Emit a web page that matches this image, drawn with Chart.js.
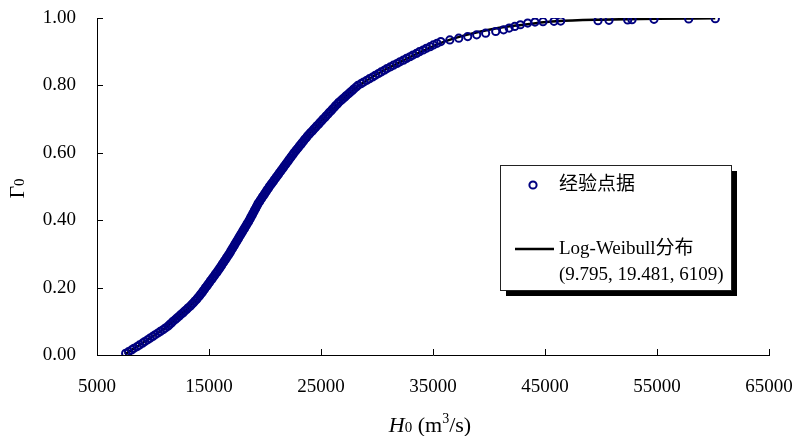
<!DOCTYPE html>
<html>
<head>
<meta charset="utf-8">
<script src="https://cdn.jsdelivr.net/npm/chart.js@4.4.1/dist/chart.umd.min.js"></script>
<style>
  html, body { margin: 0; padding: 0; background: #fff; }
  #wrap { width: 792px; height: 436px; }
</style>
</head>
<body>
<div id="wrap"><canvas id="chart" width="792" height="436"></canvas></div>
<script>
(function () {
  'use strict';

  var SERIF = "'Liberation Serif', 'Times New Roman', 'Noto Sans CJK SC', serif";
  var NAVY = '#000080';

  // 经验点据: flood peak H0 (m3/s) and empirical frequency
  var obsX = [
    7560, 7820, 8090, 8300, 8590, 8800, 9060, 9270, 9520, 9730,
    9980, 10190, 10440, 10650, 10890, 11100, 11330, 11470, 11650, 11790,
    11990, 12140, 12330, 12480, 12670, 12810, 13000, 13140, 13320, 13460,
    13620, 13740, 13890, 14000, 14150, 14250, 14380, 14470, 14600, 14690,
    14820, 14910, 15040, 15130, 15260, 15350, 15480, 15570, 15700, 15790,
    15910, 15990, 16110, 16190, 16310, 16390, 16510, 16590, 16710, 16790,
    16900, 16970, 17080, 17150, 17260, 17330, 17440, 17510, 17620, 17690,
    17800, 17870, 17980, 18050, 18160, 18230, 18340, 18410, 18520, 18590,
    18690, 18750, 18850, 18910, 19010, 19070, 19170, 19230, 19330, 19390,
    19510, 19590, 19710, 19790, 19910, 19990, 20110, 20190, 20310, 20390,
    20520, 20610, 20740, 20830, 20960, 21050, 21180, 21270, 21400, 21490,
    21620, 21710, 21840, 21930, 22060, 22150, 22280, 22370, 22500, 22590,
    22730, 22830, 22970, 23070, 23210, 23310, 23450, 23550, 23690, 23790,
    23950, 24070, 24230, 24350, 24510, 24630, 24790, 24910, 25070, 25190,
    25350, 25470, 25630, 25750, 25910, 26030, 26190, 26310, 26470, 26590,
    26780, 26930, 27120, 27270, 27460, 27610, 27800, 27950, 28140, 28290,
    28570, 28810, 29090, 29330, 29610, 29850, 30130, 30370, 30650, 30890,
    31200, 31470, 31780, 32050, 32360, 32630, 32940, 33210, 33520, 33790,
    34120, 34410, 34740, 35030, 35360, 35700, 36500, 37300, 38100, 38900,
    39700, 40600, 41300, 41800, 42300, 42800, 43455,
    44107, 44821, 45804, 46402, 49732, 50714, 52384, 52768, 54732, 57830, 60205
  ];
  var obsY = [
    0.005, 0.010, 0.015, 0.020, 0.025, 0.030, 0.035, 0.040, 0.045, 0.050,
    0.055, 0.060, 0.065, 0.070, 0.075, 0.080, 0.085, 0.090, 0.095, 0.100,
    0.105, 0.110, 0.115, 0.120, 0.125, 0.130, 0.135, 0.140, 0.145, 0.150,
    0.155, 0.160, 0.165, 0.170, 0.175, 0.180, 0.185, 0.190, 0.195, 0.200,
    0.205, 0.210, 0.215, 0.220, 0.225, 0.230, 0.235, 0.240, 0.245, 0.250,
    0.255, 0.260, 0.265, 0.270, 0.275, 0.280, 0.285, 0.290, 0.295, 0.300,
    0.305, 0.310, 0.315, 0.320, 0.325, 0.330, 0.335, 0.340, 0.345, 0.350,
    0.355, 0.360, 0.365, 0.370, 0.375, 0.380, 0.385, 0.390, 0.395, 0.400,
    0.405, 0.410, 0.415, 0.420, 0.425, 0.430, 0.435, 0.440, 0.445, 0.450,
    0.455, 0.460, 0.465, 0.470, 0.475, 0.480, 0.485, 0.490, 0.495, 0.500,
    0.505, 0.510, 0.515, 0.520, 0.525, 0.530, 0.535, 0.540, 0.545, 0.550,
    0.555, 0.560, 0.565, 0.570, 0.575, 0.580, 0.585, 0.590, 0.595, 0.600,
    0.605, 0.610, 0.615, 0.620, 0.625, 0.630, 0.635, 0.640, 0.645, 0.650,
    0.655, 0.660, 0.665, 0.670, 0.675, 0.680, 0.685, 0.690, 0.695, 0.700,
    0.705, 0.710, 0.715, 0.720, 0.725, 0.730, 0.735, 0.740, 0.745, 0.750,
    0.755, 0.760, 0.765, 0.770, 0.775, 0.780, 0.785, 0.790, 0.795, 0.800,
    0.805, 0.810, 0.815, 0.820, 0.825, 0.830, 0.835, 0.840, 0.845, 0.850,
    0.855, 0.860, 0.865, 0.870, 0.875, 0.880, 0.885, 0.890, 0.895, 0.900,
    0.905, 0.910, 0.915, 0.920, 0.925, 0.930, 0.935, 0.940, 0.945, 0.950,
    0.955, 0.960, 0.965, 0.970, 0.975, 0.980, 0.985,
    0.988, 0.989, 0.990, 0.991, 0.992, 0.993, 0.994, 0.995, 0.996, 0.997, 0.998
  ];

  // Log-Weibull fitted curve
  var fitX = [
    7500, 8000, 9000, 10000, 11000, 12000, 13000, 14000, 15000, 16000,
    17000, 18000, 19000, 20000, 21000, 22000, 23000, 24000, 25000, 26000,
    27000, 28000, 29000, 30000, 31000, 32000, 33000, 34000, 35000, 36000,
    38000, 40000, 42000, 44000, 46000, 50000, 55000, 60200
  ];
  var fitY = [
    0.002, 0.013, 0.034, 0.056, 0.078, 0.106, 0.135, 0.169, 0.213, 0.259,
    0.310, 0.367, 0.425, 0.480, 0.528, 0.573, 0.617, 0.657, 0.693, 0.728,
    0.760, 0.790, 0.813, 0.833, 0.851, 0.868, 0.885, 0.901, 0.916, 0.930,
    0.950, 0.965, 0.976, 0.984, 0.990, 0.995, 0.998, 0.999
  ];

  var xTicks = [5000, 15000, 25000, 35000, 45000, 55000, 65000];
  var yTicks = [0, 0.2, 0.4, 0.6, 0.8, 1.0];
  var seriesNames = ['经验点据', 'Log-Weibull分布'];
  var fitParams = '(9.795, 19.481, 6109)';

  function font(size, style) {
    return (style ? style + ' ' : '') + size + 'px ' + SERIF;
  }

  // draw a row of text pieces (mixed italic / sub / sup) centred on cx
  function drawRuns(ctx, runs, cx, baseline) {
    var total = 0;
    runs.forEach(function (r) { ctx.font = r.font; total += ctx.measureText(r.text).width; });
    var x = cx - total / 2;
    ctx.textAlign = 'left';
    ctx.textBaseline = 'alphabetic';
    runs.forEach(function (r) {
      ctx.font = r.font;
      ctx.fillText(r.text, x, baseline + (r.dy || 0));
      x += ctx.measureText(r.text).width;
    });
  }

  // ── tick marks pointing into the plot ─────────────────────────── //
  var insideTicks = {
    id: 'insideTicks',
    afterDraw: function (chart) {
      var ctx = chart.ctx, a = chart.chartArea;
      var sx = chart.scales.x, sy = chart.scales.y;
      ctx.save();
      ctx.strokeStyle = '#000';
      ctx.lineWidth = 1;
      sx.ticks.forEach(function (t) {
        var px = Math.round(sx.getPixelForValue(t.value)) + 0.5;
        ctx.beginPath(); ctx.moveTo(px, a.bottom); ctx.lineTo(px, a.bottom - 6); ctx.stroke();
      });
      sy.ticks.forEach(function (t) {
        var py = Math.round(sy.getPixelForValue(t.value)) + 0.5;
        ctx.beginPath(); ctx.moveTo(a.left, py); ctx.lineTo(a.left + 6, py); ctx.stroke();
      });
      ctx.restore();
    }
  };

  // ── axis titles: H0 (m3/s) and Γ0 ─────────────────────────────── //
  var axisTitles = {
    id: 'axisTitles',
    afterDraw: function (chart) {
      var ctx = chart.ctx, a = chart.chartArea;
      ctx.save();
      ctx.fillStyle = '#000';
      drawRuns(ctx, [
        { text: 'H', font: font(22, 'italic') },
        { text: '0', font: font(15) },
        { text: ' (m', font: font(22) },
        { text: '3', font: font(14), dy: -9 },
        { text: '/s)', font: font(22) }
      ], (a.left + a.right) / 2 - 3, 432);

      ctx.translate(24, (a.top + a.bottom) / 2 + 2);
      ctx.rotate(-Math.PI / 2);
      drawRuns(ctx, [
        { text: 'Γ', font: font(22) },
        { text: '0', font: font(15) }
      ], 0, 0);
      ctx.restore();
    }
  };

  // ── boxed legend with drop shadow ─────────────────────────────── //
  var boxLegend = {
    id: 'boxLegend',
    afterDraw: function (chart) {
      var ctx = chart.ctx;
      var pts = chart.data.datasets[0], fit = chart.data.datasets[1];
      var L = 500, T = 165, W = 231, H = 125, S = 6;
      ctx.save();
      ctx.fillStyle = '#000';
      ctx.fillRect(L + S, T + S, W, H);
      ctx.fillStyle = '#fff';
      ctx.fillRect(L, T, W, H);
      ctx.strokeStyle = '#222';
      ctx.lineWidth = 1;
      ctx.strokeRect(L + 0.5, T + 0.5, W, H);

      // point item
      ctx.beginPath();
      ctx.arc(533, 185, pts.pointRadius, 0, Math.PI * 2);
      ctx.strokeStyle = pts.pointBorderColor;
      ctx.lineWidth = pts.pointBorderWidth;
      ctx.stroke();

      // line item
      ctx.beginPath();
      ctx.moveTo(515, 249); ctx.lineTo(554, 249);
      ctx.strokeStyle = fit.borderColor;
      ctx.lineWidth = fit.borderWidth;
      ctx.stroke();

      ctx.fillStyle = '#000';
      ctx.font = font(19);
      ctx.textAlign = 'left';
      ctx.textBaseline = 'middle';
      ctx.fillText(pts.label, 559, 185);
      ctx.fillText(fit.label, 559, 249);
      ctx.fillText(fitParams, 559, 275);
      ctx.restore();
    }
  };

  Chart.defaults.font.family = SERIF;
  Chart.defaults.font.size = 19;
  Chart.defaults.color = '#000';

  new Chart(document.getElementById('chart').getContext('2d'), {
    type: 'scatter',
    data: {
      datasets: [{
        label: seriesNames[0],
        data: obsX.map(function (x, i) { return { x: x, y: obsY[i] }; }),
        showLine: false,
        pointStyle: 'circle',
        pointRadius: 3.6,
        pointHoverRadius: 3.6,
        pointBorderWidth: 2,
        pointBorderColor: NAVY,
        pointBackgroundColor: 'rgba(0,0,0,0)'
      }, {
        label: seriesNames[1],
        data: fitX.map(function (x, i) { return { x: x, y: fitY[i] }; }),
        showLine: true,
        borderColor: '#000',
        borderWidth: 2.5,
        pointRadius: 0,
        pointHoverRadius: 0,
        cubicInterpolationMode: 'monotone',
        fill: false
      }]
    },
    options: {
      responsive: false,
      animation: false,
      devicePixelRatio: 1,
      layout: { padding: { left: 0, right: 23, top: 18, bottom: 0 } },
      plugins: { legend: { display: false }, tooltip: { enabled: false } },
      scales: {
        x: {
          type: 'linear',
          min: 5000,
          max: 65000,
          afterBuildTicks: function (s) { s.ticks = xTicks.map(function (v) { return { value: v }; }); },
          afterFit: function (s) {
            s.height = 81;
            s.paddingLeft = 0;
            s.paddingRight = 0;
          },
          ticks: {
            padding: 21,
            maxRotation: 0,
            autoSkip: false,
            callback: function (v) { return String(v); }
          },
          grid: { drawOnChartArea: false, drawTicks: false },
          border: { color: '#000', width: 1 }
        },
        y: {
          type: 'linear',
          min: 0,
          max: 1,
          afterBuildTicks: function (s) { s.ticks = yTicks.map(function (v) { return { value: v }; }); },
          afterFit: function (s) {
            s.width = 97;
            s.paddingTop = 0;
            s.paddingBottom = 0;
          },
          ticks: {
            padding: 21,
            autoSkip: false,
            callback: function (v) { return v.toFixed(2); }
          },
          grid: { drawOnChartArea: false, drawTicks: false },
          border: { color: '#000', width: 1 }
        }
      }
    },
    plugins: [insideTicks, axisTitles, boxLegend]
  });
})();
</script>
</body>
</html>
